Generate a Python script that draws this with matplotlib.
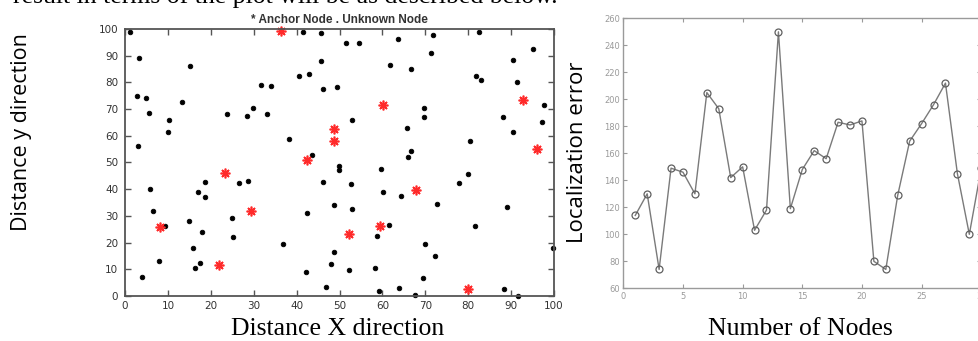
import matplotlib
matplotlib.use("Agg")
import matplotlib.pyplot as plt

# anchor nodes (red) in the deployment area
anchor_x = [36.4, 42.4, 48.8, 48.8, 60.1, 92.8, 96.1, 23.3, 8.2, 29.3, 21.8, 67.8, 59.4, 52.1, 79.9]
anchor_y = [99.3, 50.9, 62.7, 58.2, 71.6, 73.4, 55.1, 46.0, 26.0, 32.0, 11.6, 39.7, 26.2, 23.2, 2.5]

# unknown nodes (black)
unknown_x = [1.2, 3.3, 2.7, 4.9, 5.5, 3.0, 15.2, 13.3, 10.3, 10.1, 23.7, 28.5, 29.8, 31.7, 34.1,
             33.2, 38.2, 40.5, 41.6, 43.0, 45.6, 45.8, 46.1, 49.3, 43.7, 49.8, 49.8, 51.5, 54.6,
             63.6, 71.7, 82.4, 71.4, 61.8, 66.6, 90.5, 95.2, 81.7, 83.0, 91.3, 97.7, 69.6, 69.6,
             53.0, 88.0, 97.3, 65.7, 90.4, 80.5, 66.7, 65.9, 59.7, 5.8, 6.5, 9.3, 8.0, 3.9, 14.9,
             17.0, 18.6, 18.6, 26.5, 28.7, 24.9, 25.1, 17.9, 15.9, 17.5, 16.4, 36.9, 42.4, 46.1,
             48.8, 48.7, 48.1, 42.2, 46.9, 52.6, 60.1, 64.3, 77.9, 79.9, 53.0, 72.8, 89.0, 61.5,
             58.7, 81.6, 69.9, 72.2, 52.1, 58.3, 69.4, 59.3, 63.9, 67.5, 88.4, 91.5, 99.7]
unknown_y = [99.0, 89.0, 74.8, 74.3, 68.7, 56.3, 86.1, 72.7, 65.8, 61.3, 68.0, 67.5, 70.4, 78.9, 78.5,
             68.3, 58.8, 82.5, 99.0, 83.1, 88.1, 98.6, 77.4, 78.4, 52.9, 48.6, 47.3, 94.9, 94.9,
             96.4, 97.6, 99.0, 91.1, 86.4, 84.9, 88.4, 92.5, 82.3, 80.8, 80.1, 71.6, 70.4, 66.9,
             65.8, 67.2, 65.0, 63.0, 61.3, 58.0, 54.2, 52.2, 47.6, 40.0, 32.0, 26.2, 13.1, 7.0, 28.1,
             39.1, 42.8, 37.0, 42.3, 43.2, 29.1, 22.2, 24.0, 17.9, 12.5, 10.4, 19.6, 31.2, 42.6,
             34.1, 16.6, 12.0, 9.1, 3.5, 41.8, 38.8, 37.6, 42.4, 45.7, 32.6, 34.5, 33.5, 26.5,
             22.5, 26.2, 19.6, 14.9, 9.6, 10.4, 6.6, 1.9, 3.1, 0.4, 2.5, 0.0, 18.0]

# localization error per node
nodes = list(range(1, 31))
loc_error = [114, 130, 74, 149, 146, 130, 205, 193, 142, 150, 103, 118, 250, 119, 148,
             162, 156, 183, 181, 184, 80, 74, 129, 169, 182, 196, 212, 145, 100, 149]

fig = plt.figure(figsize=(9.79, 3.41), dpi=100)

# ---- left: node deployment
ax1 = fig.add_axes([0.1277, 0.132, 0.4382, 0.783])
ax1.plot(unknown_x, unknown_y, linestyle="none", marker="o", markersize=3.3,
         color="black", markeredgewidth=0.6, clip_on=False)
ax1.plot(anchor_x, anchor_y, linestyle="none", marker=(8, 2, 0), markersize=7,
         color="#ff2a2a", markeredgewidth=1.2, clip_on=False)
ax1.set_xlim(0, 100)
ax1.set_ylim(0, 100)
ax1.set_xticks(range(0, 101, 10))
ax1.set_yticks(range(0, 101, 10))
ax1.tick_params(direction="in", top=True, right=True, length=4, width=1,
                color="#555555", labelsize=7.5, labelcolor="#333333")
ax1.tick_params(axis="y", pad=5)
for s in ax1.spines.values():
    s.set_color("#555555")
    s.set_linewidth(1.3)
ax1.set_title("* Anchor Node . Unknown Node", fontsize=8.5, fontweight="bold",
              color="#333333", family="Liberation Sans", pad=4)

# ---- right: localization error
ax2 = fig.add_axes([0.6367, 0.1545, 0.3656, 0.7918])
ax2.plot(nodes, loc_error, color="#7a7a7a", linewidth=1.0, marker="o",
         markersize=5, markerfacecolor="none", markeredgecolor="#606060",
         markeredgewidth=0.9, clip_on=False)
ax2.set_xlim(0, 30)
ax2.set_ylim(60, 260)
ax2.set_xticks(range(0, 31, 5))
ax2.set_yticks(range(60, 261, 20))
ax2.tick_params(direction="in", top=True, right=True, length=3, width=0.8,
                color="#9a9a9a", labelsize=6, labelcolor="#9a9a9a", pad=3)
ax2.tick_params(axis="y", pad=2.5)
for s in ax2.spines.values():
    s.set_color("#9a9a9a")
    s.set_linewidth(1.0)

# ---- surrounding text
fig.text(0.022, 0.614, "Distance y direction", rotation=90, ha="center", va="center",
         fontsize=15.5, family="Open Sans")
fig.text(0.590, 0.554, "Localization error", rotation=90, ha="center", va="center",
         fontsize=16, family="Open Sans")
fig.text(0.345, 0.018, "Distance X direction", ha="center", va="baseline",
         fontsize=18.5, family="Liberation Serif")
fig.text(0.818, 0.018, "Number of Nodes", ha="center", va="baseline",
         fontsize=18.5, family="Liberation Serif")
fig.text(0.013, 0.99, "result in terms of the plot will be as described below.",
         ha="left", va="baseline", fontsize=18.5, family="Liberation Serif")

fig.savefig("out.png", dpi=100)
plt.close(fig)
